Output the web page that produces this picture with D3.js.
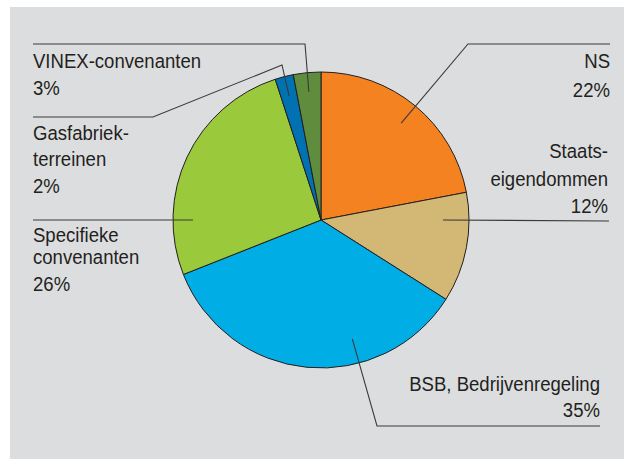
<!DOCTYPE html>
<html>
<head>
<meta charset="utf-8">
<script src="https://cdn.jsdelivr.net/npm/d3@7"></script>
<style>
  html, body { margin: 0; padding: 0; background: #fff; }
  svg { display: block; }
  text { font-family: "Liberation Sans", Arial, sans-serif; font-size: 20.5px; fill: #231f20; }
</style>
</head>
<body>
<div id="chart"></div>
<script>
// data
const categories = ["NS", "Staatseigendommen", "BSB, Bedrijvenregeling", "Specifieke convenanten", "Gasfabriekterreinen", "VINEX-convenanten"];
const shares = [22, 12, 35, 26, 2, 3];
const colors = ["#f58220", "#d2b874", "#00ade4", "#9bc93c", "#0072b1", "#5f8c3d"];
const labelLines = [
  ["NS", "22%"],
  ["Staats-", "eigendommen", "12%"],
  ["BSB, Bedrijvenregeling", "35%"],
  ["Specifieke", "convenanten", "26%"],
  ["Gasfabriek-", "terreinen", "2%"],
  ["VINEX-convenanten", "3%"]
];

const W = 626, H = 459;
const cx = 321, cy = 220, R = 148;
const squeeze = 0.905; // condensed look of the original type

const svg = d3.select("#chart").append("svg")
  .attr("width", W).attr("height", H);

// gray panel
svg.append("rect")
  .attr("x", 10).attr("y", 7)
  .attr("width", 614).attr("height", H - 7)
  .attr("fill", "#dcdddf");

const pie = d3.pie().sort(null).value(d => d)(shares);
const arc = d3.arc().innerRadius(0).outerRadius(R);

const g = svg.append("g").attr("transform", `translate(${cx},${cy})`);

g.selectAll("path.slice")
  .data(pie)
  .enter().append("path")
  .attr("class", "slice")
  .attr("d", arc)
  .attr("fill", (d, i) => colors[i])
  .attr("stroke", "#231f20")
  .attr("stroke-width", 1)
  .attr("stroke-linejoin", "round");

// leader lines and label placement (per slice)
// inner: [position inside slice 0..1, radius fraction]; pts: outer points
const layout = [
  { inner: [0.5, 0.85], pts: [[468, 44], [610, 44]], tx: 610, ty: 68, anchor: "end", lh: [29] },
  { inner: [0.25, 0.824], pts: [[609, 221]], tx: 608, ty: 158, anchor: "end", lh: [28.5, 27] },
  { inner: [0.34, 0.83], pts: [[377, 426], [600, 426]], tx: 600, ty: 391, anchor: "end", lh: [26] },
  { inner: [0.231, 0.865], pts: [[33, 220]], tx: 33, ty: 242, anchor: "start", lh: [22, 27] },
  { inner: [0.5, 0.865], pts: [[282, 65], [153, 117], [33, 117]], tx: 33, ty: 140, anchor: "start", lh: [26.5, 26.5] },
  { inner: [0.5, 0.87], pts: [[305, 44], [33, 44]], tx: 33, ty: 68, anchor: "start", lh: [27] }
];

const lineGen = d3.line();

pie.forEach((d, i) => {
  const L = layout[i];
  const a = d.startAngle + (d.endAngle - d.startAngle) * L.inner[0];
  const p = d3.pointRadial(a, R * L.inner[1]);
  const pts = [[cx + p[0], cy + p[1]]].concat(L.pts);
  svg.append("path")
    .attr("d", lineGen(pts))
    .attr("fill", "none")
    .attr("stroke", "#3a3a3c")
    .attr("stroke-width", 1.1);

  const t = svg.append("g")
    .attr("transform", `translate(${L.tx},0) scale(${squeeze},1)`)
    .append("text")
    .attr("text-anchor", L.anchor);
  let y = L.ty;
  labelLines[i].forEach((s, k) => {
    if (k > 0) y += L.lh[k - 1];
    t.append("tspan").attr("x", 0).attr("y", y).text(s);
  });
});
</script>
</body>
</html>
